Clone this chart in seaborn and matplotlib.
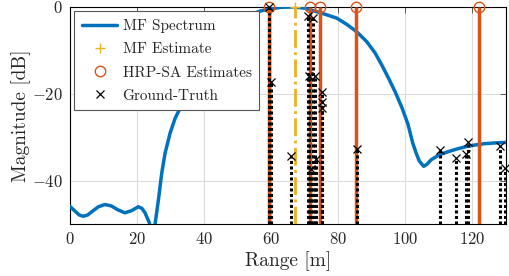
import matplotlib
matplotlib.use("Agg")
import matplotlib.pyplot as plt
import seaborn as sns
import numpy as np
import pandas as pd

# MF spectrum (range [m], magnitude [dB])
mf_range = [0, 1.5, 2.8, 4.0, 5.3, 6.8, 8.5, 10.4, 12.3, 14.3, 16.4, 18.4, 20.4,
            21.5, 22.4, 23.7, 24.6, 25.4, 26.4, 27.4, 28.4, 29.9, 31.4, 33.4,
            36, 39, 42, 45, 48, 51, 54, 57, 60, 63, 66.6, 70, 73.6, 76.5, 79.6,
            82.5, 85.5, 88.5, 91, 93, 95, 97, 99, 100.8, 102.2, 103.3, 104.2,
            105.5, 106.5, 107.7, 110.2, 112.5, 115.4, 119, 123.4, 127, 130]
mf_db = [-45.9, -47.0, -47.9, -48.2, -47.9, -47.0, -46.0, -45.5, -45.8, -46.7,
         -47.4, -46.9, -46.0, -46.4, -47.4, -49.7, -53.0, -50.0, -44.4, -38.2,
         -33.6, -29.0, -25.6, -22.5, -17.6, -12.8, -9.0, -6.3, -4.3, -2.8, -1.7,
         -0.9, -0.4, -0.1, 0.0, -0.3, -1.1, -1.8, -2.6, -4.0, -5.7, -8.0, -10.6,
         -13.4, -16.4, -19.6, -23.2, -27.0, -31.3, -33.8, -35.5, -36.7, -36.2,
         -35.2, -34.0, -33.4, -32.7, -32.0, -31.5, -31.3, -31.2]

mf_est_range = [67.0]
mf_est_db = [0.0]

hrp_range = [59.5, 71.6, 74.6, 85.2, 122.1]
hrp_db = [0.0, 0.0, 0.0, 0.0, 0.0]

gt_range = [59.5, 59.9, 66.0, 71.1, 72.4, 71.4, 73.2, 71.9, 73.3, 75.1, 75.1, 75.1,
            85.6, 110.4, 115.1, 118.2, 118.6, 128.1, 129.6]
gt_db = [0.0, -17.4, -34.4, -2.2, -2.6, -15.9, -16.0, -37.3, -35.0, -19.5, -21.8,
         -23.3, -32.7, -32.9, -34.8, -33.9, -31.0, -32.0, -37.1]

blue = '#0072BD'
orange = '#D95319'
yellow = '#EDB120'
floor = -50

sns.set_style("white")
plt.rcParams['font.family'] = ['cmr10']
plt.rcParams['mathtext.fontset'] = 'cm'
plt.rcParams['axes.formatter.use_mathtext'] = True
plt.rcParams['font.size'] = 12

fig = plt.figure(figsize=(5.1, 2.76), dpi=100)
ax = fig.add_axes([0.137, 0.188, 0.855, 0.787])

df = pd.DataFrame({'range': mf_range, 'db': mf_db})
sns.lineplot(data=df, x='range', y='db', ax=ax, color=blue, lw=2.5,
             label='MF Spectrum', zorder=3)

# MF estimate stem
ax.vlines(mf_est_range, floor, mf_est_db, colors=yellow, linestyles='-.', lw=2, zorder=4)
ax.plot(mf_est_range, mf_est_db, ls='none', marker='+', ms=7, mew=1, color=yellow,
        label='MF Estimate', clip_on=False, zorder=6)

# HRP-SA stems
ax.vlines(hrp_range, floor, hrp_db, colors=orange, lw=2.5, zorder=4)
ax.plot(hrp_range, hrp_db, ls='none', marker='o', ms=7.5, mfc='none', mew=1,
        color=orange, label='HRP-SA Estimates', clip_on=False, zorder=6)

# ground truth stems
ax.vlines(gt_range, floor, gt_db, colors='black', linestyles=(0, (1, 0.8)), lw=2.2, zorder=5)
ax.plot(gt_range, gt_db, ls='none', marker='x', ms=6, mew=0.9, color='black',
        label='Ground-Truth', clip_on=False, zorder=7)

ax.set_xlim(0, 130)
ax.set_ylim(-50, 0)
ax.set_xticks(np.arange(0, 121, 20))
ax.set_yticks([-40, -20, 0])
ax.set_xlabel('Range [m]', labelpad=3, fontsize=14)
ax.set_ylabel('Magnitude [dB]', labelpad=1, fontsize=14)
ax.grid(True, color='#dcdcdc', lw=0.8)
ax.set_axisbelow(True)
ax.tick_params(direction='in', top=True, right=True, length=4, width=0.6,
               color='#444444', pad=5)
for sp in ax.spines.values():
    sp.set_color('black')
    sp.set_linewidth(0.8)

leg = ax.legend(loc='upper left', frameon=True, fancybox=False, framealpha=1,
                edgecolor='#555555', borderaxespad=0.3, handlelength=2.3,
                labelspacing=0.62, borderpad=0.5, handletextpad=0.35, fontsize=11)
leg.get_frame().set_linewidth(0.8)

fig.savefig('out.png', dpi=100)
